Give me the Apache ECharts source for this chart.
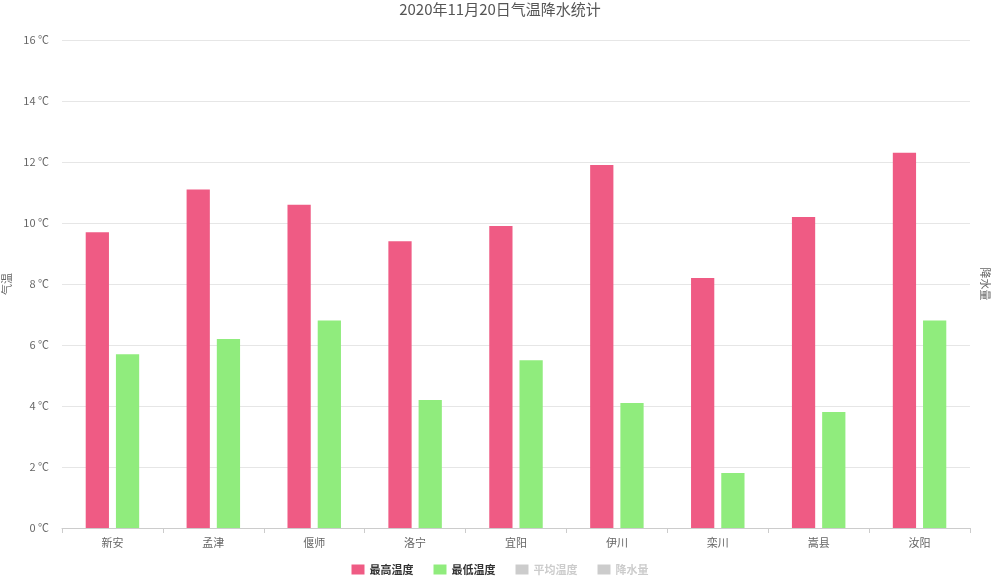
<!DOCTYPE html>
<html>
<head>
<meta charset="utf-8">
<script src="https://cdn.jsdelivr.net/npm/echarts@6/dist/echarts.min.js"></script>
<style>html,body{margin:0;padding:0;background:#fff;}#c{width:1000px;height:582px;}</style>
</head>
<body>
<div id="c"></div>
<script>
const categories = ['新安','孟津','偃师','洛宁','宜阳','伊川','栾川','嵩县','汝阳'];
const maxTemp = [9.7, 11.1, 10.6, 9.4, 9.9, 11.9, 8.2, 10.2, 12.3];
const minTemp = [5.7, 6.2, 6.8, 4.2, 5.5, 4.1, 1.8, 3.8, 6.8];
const avgTemp = [];
const rainfall = [];
const titleText = '2020年11月20日气温降水统计';

const font = '"Noto Sans CJK SC", "Microsoft YaHei", sans-serif';
const chart = echarts.init(document.getElementById('c'));
chart.setOption({
  animation: false,
  textStyle: { fontFamily: font },
  title: {
    text: titleText, left: 'center', top: -3,
    textStyle: { fontFamily: font, fontSize: 15, fontWeight: 'normal', color: '#555' }
  },
  legend: {
    bottom: 2, left: 'center', icon: 'rect',
    itemWidth: 13, itemHeight: 10, itemGap: 20,
    textStyle: { fontFamily: font, fontSize: 11, fontWeight: 'bold', color: '#333' },
    inactiveColor: '#ccc',
    data: ['最高温度','最低温度','平均温度','降水量'],
    selected: { '平均温度': false, '降水量': false }
  },
  grid: { left: 62, right: 30, top: 40, bottom: 54, containLabel: false, outerBoundsMode: 'none' },
  xAxis: {
    type: 'category', data: categories,
    axisLine: { lineStyle: { color: '#ccc' } },
    axisTick: { show: true, length: 5, lineStyle: { color: '#ccc' } },
    axisLabel: { color: '#666', fontSize: 11, margin: 9 }
  },
  yAxis: [{
    type: 'value', name: '气温', nameLocation: 'middle', nameGap: 44,
    nameTextStyle: { color: '#666', fontSize: 11 },
    min: 0, max: 16, interval: 2,
    axisLabel: { formatter: '{value} ℃', color: '#666', fontSize: 11, margin: 13 },
    axisLine: { show: false }, axisTick: { show: false },
    splitLine: { lineStyle: { color: '#e6e6e6' } }
  }, {
    type: 'value', name: '降水量', nameLocation: 'middle', nameGap: 10, nameRotate: -90,
    nameTextStyle: { color: '#666', fontSize: 11 },
    axisLabel: { show: false }, axisLine: { show: false }, axisTick: { show: false },
    splitLine: { show: false }
  }],
  series: [{
    name: '最高温度', type: 'bar', data: maxTemp,
    barGap: '30%', barCategoryGap: '47%',
    itemStyle: { color: '#EF5B84' }
  }, {
    name: '最低温度', type: 'bar', data: minTemp,
    itemStyle: { color: '#90EC7D' }
  }, {
    name: '平均温度', type: 'line', data: avgTemp,
    itemStyle: { color: '#F7A35C' }
  }, {
    name: '降水量', type: 'bar', yAxisIndex: 1, data: rainfall,
    itemStyle: { color: '#7CB5EC' }
  }]
});
</script>
</body>
</html>
